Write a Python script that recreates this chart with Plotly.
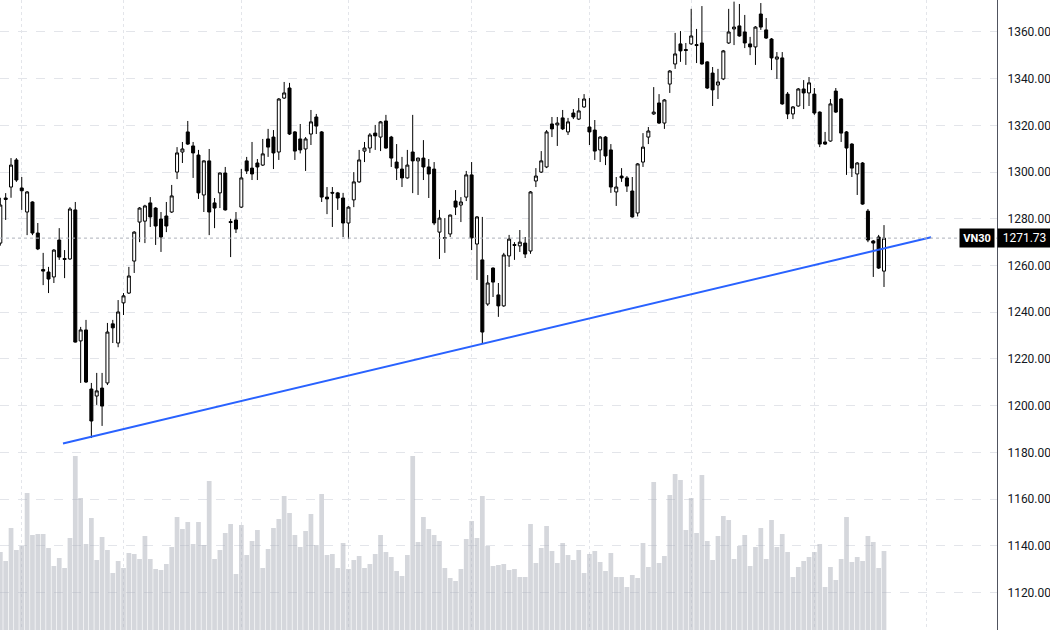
import plotly.graph_objects as go

# ---------------- data ----------------
opens = [1269.6, 1288.9, 1293.6, 1305.2, 1293.2, 1282.9, 1287.2, 1273.9, 1258.3, 1257.2,
         1255.1, 1270.9, 1263.0, 1262.8, 1283.8, 1227.7, 1232.4, 1207.1, 1204.1, 1207.5,
         1209.7, 1235.0, 1226.8, 1244.0, 1248.2, 1261.9, 1278.6, 1279.0, 1286.8, 1284.6,
         1279.9, 1281.2, 1282.9, 1300.0, 1308.6, 1317.2, 1311.2, 1307.3, 1290.2, 1304.8,
         1286.8, 1291.1, 1299.6, 1278.8, 1279.5, 1285.0, 1304.8, 1301.7, 1303.9, 1303.0,
         1314.2, 1315.0, 1308.6, 1331.7, 1336.0, 1317.2, 1314.2, 1309.9, 1316.3, 1323.6,
         1317.2, 1289.3, 1291.3, 1291.1, 1288.9, 1278.2, 1288.1, 1295.8, 1309.0, 1310.3,
         1316.7, 1315.0, 1321.9, 1315.0, 1304.3, 1301.3, 1297.5, 1308.6, 1304.8, 1306.0,
         1302.2, 1301.3, 1274.3, 1271.6, 1273.5, 1287.6, 1285.9, 1289.3, 1298.8, 1269.2,
         1262.4, 1243.5, 1258.9, 1247.4, 1242.7, 1264.1, 1269.0, 1268.4, 1269.6, 1266.2,
         1296.2, 1300.0, 1302.2, 1320.6, 1320.2, 1323.2, 1317.2, 1325.3, 1322.7, 1327.9,
         1319.3, 1318.0, 1309.5, 1315.0, 1309.5, 1291.5, 1298.3, 1297.5, 1291.9, 1282.5,
         1304.3, 1315.0, 1324.9, 1329.6, 1321.0, 1337.7, 1346.3, 1354.9, 1352.5, 1354.9,
         1354.6, 1355.3, 1347.2, 1342.4, 1337.3, 1339.9, 1355.3, 1361.3, 1362.6, 1360.0,
         1354.9, 1353.6, 1367.7, 1360.9, 1357.0, 1348.4, 1348.9, 1333.4, 1324.9, 1328.3,
         1335.6, 1333.9, 1333.4, 1325.7, 1312.9, 1313.3, 1334.7, 1331.3, 1317.2, 1312.0,
         1299.2, 1303.9, 1283.3, 1270.5, 1272.2, 1257.6]

highs = [1289.0, 1291.0, 1306.0, 1306.0, 1297.9, 1291.9, 1287.5, 1278.2, 1265.4, 1259.4,
         1267.0, 1276.0, 1266.6, 1285.0, 1287.2, 1233.7, 1236.7, 1209.7, 1214.0, 1214.0,
         1235.4, 1236.7, 1245.2, 1248.2, 1259.4, 1274.7, 1285.0, 1286.0, 1289.3, 1285.0,
         1282.9, 1287.2, 1294.5, 1310.7, 1312.9, 1321.9, 1312.9, 1309.5, 1305.0, 1309.9,
         1288.9, 1299.8, 1302.2, 1280.0, 1282.9, 1301.3, 1306.5, 1312.9, 1305.6, 1314.2,
         1318.5, 1318.0, 1331.7, 1338.6, 1338.2, 1317.6, 1320.6, 1315.0, 1326.6, 1324.9,
         1317.6, 1293.6, 1293.6, 1291.5, 1291.1, 1285.4, 1300.0, 1309.5, 1312.9, 1316.7,
         1320.2, 1321.9, 1324.5, 1315.5, 1312.0, 1306.5, 1309.5, 1324.5, 1306.2, 1313.7,
         1305.6, 1304.3, 1283.8, 1280.3, 1281.8, 1292.3, 1289.3, 1300.5, 1304.3, 1281.2,
         1280.8, 1255.9, 1259.2, 1252.5, 1265.4, 1273.1, 1270.0, 1275.2, 1272.2, 1291.9,
         1301.7, 1309.0, 1318.0, 1323.6, 1323.6, 1326.6, 1323.2, 1327.0, 1331.7, 1333.4,
         1331.7, 1322.3, 1315.4, 1315.4, 1312.0, 1297.9, 1301.7, 1298.3, 1297.9, 1303.9,
         1316.7, 1319.3, 1336.4, 1333.4, 1331.3, 1343.7, 1359.6, 1360.4, 1355.3, 1369.9,
         1361.3, 1371.1, 1347.5, 1345.0, 1344.2, 1352.3, 1369.9, 1373.0, 1372.0, 1367.3,
         1357.9, 1362.5, 1372.4, 1366.0, 1357.4, 1351.4, 1351.4, 1334.3, 1328.3, 1336.0,
         1339.4, 1340.7, 1336.0, 1326.0, 1317.2, 1331.3, 1336.0, 1331.7, 1317.6, 1312.4,
         1304.3, 1304.3, 1284.2, 1270.9, 1273.1, 1277.3]

lows = [1268.5, 1279.5, 1289.0, 1295.8, 1283.8, 1273.0, 1273.0, 1266.6, 1251.6, 1248.2,
        1252.5, 1262.4, 1254.6, 1262.4, 1227.0, 1209.7, 1209.7, 1186.1, 1200.3, 1191.3,
        1208.8, 1226.8, 1225.0, 1238.8, 1247.8, 1256.8, 1270.0, 1269.6, 1276.5, 1268.8,
        1265.8, 1274.3, 1282.5, 1297.0, 1303.9, 1311.6, 1297.5, 1288.5, 1282.9, 1273.0,
        1276.0, 1284.6, 1283.5, 1263.6, 1273.9, 1284.6, 1299.2, 1296.6, 1296.6, 1302.6,
        1306.5, 1301.3, 1305.2, 1331.3, 1315.9, 1305.2, 1308.0, 1300.5, 1311.6, 1316.3,
        1287.2, 1282.0, 1276.5, 1283.8, 1272.2, 1271.3, 1285.0, 1295.4, 1304.3, 1308.2,
        1309.5, 1309.0, 1310.0, 1302.2, 1296.6, 1293.6, 1297.2, 1291.0, 1290.2, 1296.6,
        1288.9, 1277.3, 1262.8, 1265.4, 1272.2, 1281.6, 1278.6, 1287.6, 1266.6, 1253.8,
        1226.8, 1242.7, 1246.5, 1238.0, 1242.3, 1259.4, 1262.4, 1265.8, 1263.2, 1265.0,
        1293.6, 1299.6, 1301.7, 1315.0, 1311.2, 1318.0, 1315.9, 1322.7, 1322.3, 1327.5,
        1311.6, 1305.2, 1304.3, 1303.0, 1291.1, 1285.5, 1295.8, 1291.5, 1280.5, 1281.0,
        1302.2, 1312.0, 1324.5, 1320.6, 1318.5, 1333.9, 1344.2, 1347.2, 1345.9, 1354.5,
        1346.7, 1346.0, 1335.6, 1328.3, 1331.3, 1339.4, 1354.9, 1354.4, 1358.0, 1353.1,
        1350.1, 1345.9, 1360.9, 1357.0, 1343.7, 1339.9, 1328.8, 1322.7, 1322.7, 1328.0,
        1327.0, 1328.3, 1324.5, 1310.7, 1311.6, 1313.0, 1325.3, 1312.9, 1298.8, 1297.9,
        1290.2, 1286.0, 1270.0, 1255.1, 1258.5, 1250.8]

closes = [1285.9, 1288.3, 1303.0, 1296.6, 1292.0, 1291.5, 1273.9, 1267.1, 1257.6, 1254.2,
          1266.6, 1263.6, 1262.6, 1284.2, 1227.2, 1232.4, 1210.1, 1193.4, 1206.3, 1199.8,
          1231.5, 1233.3, 1240.1, 1247.0, 1255.5, 1274.3, 1284.6, 1285.5, 1280.8, 1276.9,
          1272.2, 1276.9, 1289.8, 1308.2, 1309.9, 1312.0, 1308.2, 1291.1, 1304.8, 1282.9,
          1284.6, 1299.6, 1283.8, 1278.4, 1275.6, 1297.5, 1300.5, 1299.2, 1302.2, 1307.8,
          1310.7, 1308.2, 1331.3, 1333.9, 1316.3, 1309.0, 1309.5, 1314.2, 1321.5, 1319.7,
          1289.3, 1288.5, 1291.0, 1288.9, 1278.2, 1285.0, 1295.8, 1305.2, 1310.3, 1315.9,
          1315.5, 1321.5, 1310.3, 1306.0, 1301.7, 1297.5, 1303.0, 1304.8, 1306.0, 1302.2,
          1299.2, 1278.2, 1280.3, 1271.9, 1281.6, 1285.0, 1287.2, 1298.8, 1271.8, 1280.8,
          1231.5, 1252.5, 1252.9, 1242.7, 1264.5, 1271.3, 1268.6, 1270.0, 1264.9, 1291.5,
          1298.3, 1304.8, 1317.2, 1318.5, 1321.0, 1318.5, 1321.5, 1323.6, 1326.2, 1331.3,
          1317.2, 1309.0, 1315.0, 1306.9, 1293.6, 1293.6, 1297.5, 1294.0, 1280.8, 1303.5,
          1310.7, 1317.6, 1325.7, 1321.0, 1330.9, 1343.3, 1350.6, 1351.9, 1352.1, 1358.3,
          1354.2, 1346.3, 1336.0, 1335.2, 1338.6, 1351.9, 1360.0, 1362.1, 1358.3, 1355.3,
          1353.6, 1362.1, 1362.1, 1357.4, 1348.9, 1349.3, 1329.2, 1324.9, 1327.9, 1335.6,
          1333.9, 1338.2, 1325.3, 1312.0, 1312.0, 1329.2, 1325.7, 1316.7, 1310.3, 1301.7,
          1303.9, 1286.3, 1270.9, 1269.6, 1258.9, 1271.73]

volumes = [78, 69, 102, 80, 84, 137, 95, 96, 96, 82, 64, 72, 62, 92, 174, 132, 86, 112, 70, 93,
           80, 57, 69, 62, 77, 76, 71, 94, 71, 61, 60, 66, 83, 113, 101, 108, 86, 108, 85, 149,
           71, 80, 97, 106, 56, 105, 75, 89, 100, 62, 81, 102, 111, 134, 117, 95, 83,
           99, 116, 85, 136, 75, 76, 62, 87, 61, 70, 74, 62, 66, 76, 95, 78, 73, 59, 54,
           75, 174, 88, 113, 101, 95, 89, 62, 52, 49, 61, 91, 109, 92, 134, 84, 64, 65, 66, 60,
           61, 53, 53, 106, 67, 82, 104, 79, 67, 87, 75, 70, 80, 57, 76, 79, 68,
           59, 77, 53, 53, 43, 55, 52, 87, 63, 148, 67, 74, 135, 156, 150, 100, 132, 97, 155, 89,
           70, 94, 114, 110, 71, 84, 95, 64, 83, 102, 71, 110, 83, 96, 78, 53, 63, 69, 73, 78,
           86, 43, 63, 50, 71, 113, 68, 73, 69, 94, 88, 62, 79]

bar_index = list(range(len(closes)))
month_start_index = [4, 23, 45, 65, 88, 110, 129, 152, 173]
price_ticks = [1120, 1140, 1160, 1180, 1200, 1220, 1240, 1260, 1280, 1300, 1320, 1340, 1360]
trend_index = [11.7, 173.8]
trend_price = [1183.8, 1272.1]
symbol = "VN30"
last_price = closes[-1]

# ---------------- figure ----------------
fig = go.Figure()

fig.add_trace(go.Bar(
    x=bar_index, y=volumes, yaxis="y2",
    marker=dict(color="rgba(172,175,186,0.5)", line=dict(width=0)),
    hoverinfo="skip",
))

fig.add_trace(go.Candlestick(
    x=bar_index, open=opens, high=highs, low=lows, close=closes,
    increasing=dict(fillcolor="#ffffff", line=dict(color="#000000", width=1)),
    decreasing=dict(fillcolor="#000000", line=dict(color="#000000", width=1)),
    whiskerwidth=0,
))

fig.add_trace(go.Scatter(
    x=trend_index, y=trend_price, mode="lines",
    line=dict(color="#2962ff", width=2), hoverinfo="skip",
))

fig.add_shape(type="line", xref="paper", yref="y", x0=0, x1=1,
              y0=last_price, y1=last_price,
              line=dict(color="#aeb1ba", width=1, dash="dot"))

fig.add_annotation(xref="paper", yref="y", x=1, y=last_price, xanchor="left",
                   text=f"{last_price:.2f}", showarrow=False,
                   font=dict(color="#ffffff", size=12, family="Roboto"),
                   bgcolor="#000000", width=49, height=14, borderpad=2, align="center")
fig.add_annotation(xref="paper", yref="y", x=1, y=last_price, xanchor="right", xshift=-2,
                   text=f"<b>{symbol}</b>", showarrow=False,
                   font=dict(color="#ffffff", size=11, family="Roboto"),
                   bgcolor="#000000", width=30, height=14, borderpad=2, align="center")

fig.update_layout(
    width=1050, height=630,
    margin=dict(l=0, r=53, t=0, b=0),
    plot_bgcolor="#ffffff", paper_bgcolor="#ffffff",
    showlegend=False,
    boxgap=0.2, bargap=0.12,
    xaxis=dict(range=[-0.06, 186.1], tickvals=month_start_index, showticklabels=False,
               showgrid=True, gridcolor="#e3e5ea", griddash="dot", gridwidth=1,
               zeroline=False, showline=False, ticks="",
               rangeslider=dict(visible=False), fixedrange=True),
    yaxis=dict(side="right", range=[1103.9, 1373.7], tickvals=price_ticks,
               tickformat=".2f", showgrid=True, gridcolor="#e3e5ea", griddash="dash",
               zeroline=False, showline=True, linecolor="#50535e", linewidth=1,
               ticks="", ticklabelstandoff=7,
               tickfont=dict(size=12, color="#131722", family="Roboto")),
    yaxis2=dict(overlaying="y", range=[0, 630], visible=False),
)

fig.write_html("out.html")
